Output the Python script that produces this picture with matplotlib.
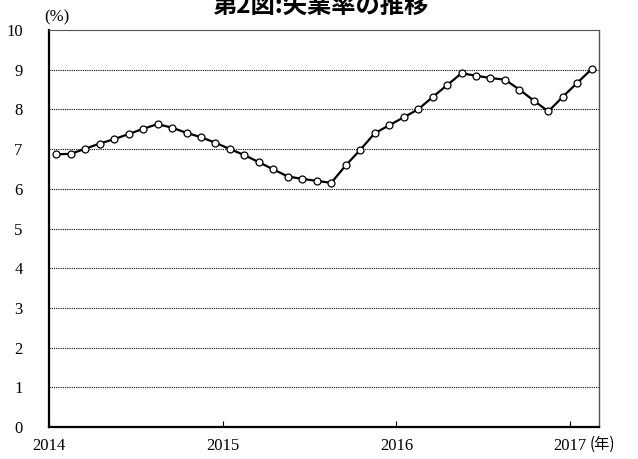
import numpy as np
import matplotlib.pyplot as plt

plt.rcParams["font.family"] = ["Liberation Serif", "Noto Sans CJK JP"]

# monthly unemployment rate, Jan 2014 - Feb 2017
rate = [6.87, 6.88, 7.01, 7.14, 7.25, 7.38, 7.51, 7.63, 7.54, 7.41, 7.30, 7.16,
        7.00, 6.85, 6.67, 6.49, 6.31, 6.25, 6.20, 6.15, 6.59, 6.98, 7.40, 7.60,
        7.80, 8.00, 8.31, 8.61, 8.91, 8.85, 8.79, 8.75, 8.50, 8.22, 7.95, 8.32,
        8.67, 9.02]
years = ["2014", "2015", "2016", "2017"]
y_ticks = list(range(0, 11))

fig = plt.figure(figsize=(6.38, 4.59), dpi=100)
ax = fig.add_axes([0.0768, 0.0697, 0.8621, 0.8649])

x = np.arange(len(rate)) + 0.5
ax.plot(x, rate, color="black", lw=1.6, marker="o", ms=5,
        mfc="white", mec="black", mew=0.9, zorder=3)

ax.set_xlim(0, len(rate))
ax.set_ylim(0, 10)
ax.set_yticks(y_ticks)
ax.set_xticks([0, 12, 24, 36])
ax.set_xticklabels(years)

for v in y_ticks[1:-1]:
    ax.axhline(v, color="black", lw=0.8, ls=(0, (1, 1)), zorder=1)

ax.tick_params(axis="y", length=0, pad=19, labelsize=12)
ax.tick_params(axis="x", direction="in", length=4, width=0.8, pad=8, labelsize=12)

ax.spines["left"].set_linewidth(1.6)
ax.spines["bottom"].set_linewidth(1.6)
ax.spines["top"].set_color("#555555")
ax.spines["top"].set_linestyle((0, (1, 1)))
ax.spines["right"].set_color("#555555")
ax.spines["right"].set_linewidth(1.0)

fig.text(0.089, 0.962, "(%)", fontsize=12, ha="center", va="center")
fig.text(0.944, 0.031, "(年)", fontsize=11, ha="center", va="center",
         family=["Noto Sans CJK JP"])
fig.text(0.502, 0.988, "第2図:失業率の推移", fontsize=17.5, ha="center", va="center",
         family=["Noto Sans CJK JP"], fontweight="bold")

fig.savefig("out.png", dpi=100)
